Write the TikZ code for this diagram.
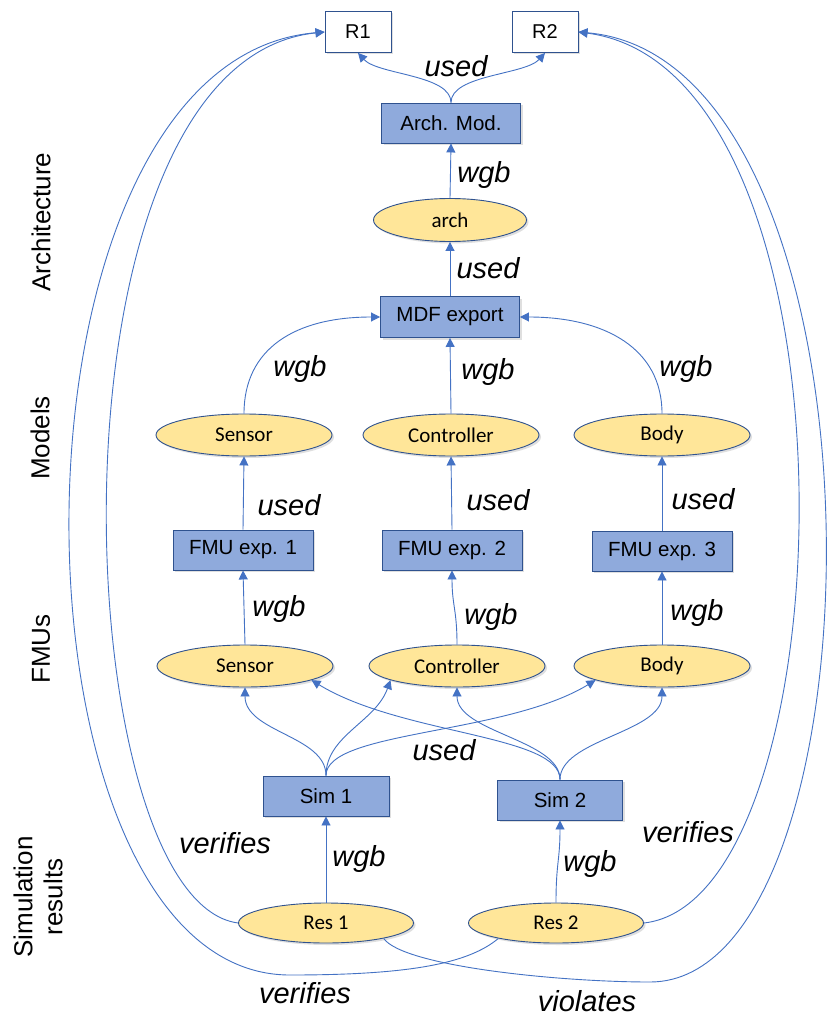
\documentclass[tikz,border=0pt]{standalone}
\usepackage{fontspec}
\setmainfont{Liberation Sans}
\newfontfamily\calfont{Carlito}
\usetikzlibrary{arrows.meta,shapes.geometric,shadows}
\definecolor{lnc}{RGB}{68,114,196}
\definecolor{bfill}{RGB}{143,170,220}
\definecolor{bdr}{RGB}{47,82,143}
\definecolor{efill}{RGB}{255,230,153}
\begin{document}
\begin{tikzpicture}[x=1pt,y=-1pt,
 shd/.style={drop shadow={shadow xshift=2pt,shadow yshift=-2pt,opacity=0.25}},
 rbox/.style={rectangle,draw=bdr,fill=white,line width=0.9pt,minimum width=66pt,minimum height=41pt,inner sep=0pt,font=\fontsize{20}{24}\selectfont,shd},
 bbox/.style={rectangle,draw=bdr,fill=bfill,line width=0.9pt,minimum width=140pt,minimum height=40pt,inner sep=0pt,font=\fontsize{20.5}{24}\selectfont,shd},
 ell/.style={ellipse,draw=bdr,fill=efill,line width=0.9pt,minimum width=176pt,minimum height=42pt,inner sep=0pt,font=\calfont\fontsize{21}{25}\selectfont,shd},
 lab/.style={font=\itshape\fontsize{29}{34}\selectfont,inner sep=0pt},
 side/.style={font=\fontsize{26}{30}\selectfont,rotate=90,inner sep=0pt,align=center},
 con/.style={draw=lnc,line width=0.9pt,-{Triangle[length=9pt,width=9pt]}},
]
\useasboundingbox (0,0) rectangle (832,1016);
\fill[white] (0,0) rectangle (832,1016);

% nodes
\node[rbox] (r1) at (358,32) {R1};
\node[rbox] (r2) at (545,32) {R2};
\node[bbox,minimum width=139pt] (am) at (451,123) {Arch. Mod.};
\node[ell,minimum width=153pt,minimum height=43pt] (arch) at (450,220) {arch};
\node[bbox,minimum width=139pt,minimum height=41pt] (mdf) at (450,317) {MDF export};
\node[ell] (ms) at (244,435) {Sensor};
\node[ell] (mc) at (451,435) {Controller};
\node[ell] (mb) at (662,435) {Body};
\node[bbox] (f1) at (243,550) {FMU exp. 1};
\node[bbox] (f2) at (452,550) {FMU exp. 2};
\node[bbox] (f3) at (662,551) {FMU exp. 3};
\node[ell] (us) at (245,666) {Sensor};
\node[ell] (uc) at (457,666) {Controller};
\node[ell] (ub) at (662,666) {Body};
\node[bbox,minimum width=126pt] (s1) at (326,796) {Sim 1};
\node[bbox,minimum width=125pt] (s2) at (560,800) {Sim 2};
\node[ell,minimum width=175pt,minimum height=40pt] (q1) at (326,923) {Res 1};
\node[ell,minimum width=175pt,minimum height=40pt] (q2) at (556,923) {Res 2};

% connectors
\draw[con] (am.north) .. controls +(0,-28) and +(20,22) .. (r1.south);
\draw[con] (am.north) .. controls +(0,-28) and +(-20,22) .. (r2.south);
\draw[con] (arch.north) -- (am.south);
\draw[con] (mdf.north) -- (arch.south);
\draw[con] (ms.north) .. controls +(0,-65) and +(-85,0) .. (mdf.west);
\draw[con] (mc.north) -- (mdf.south);
\draw[con] (mb.north) .. controls +(0,-65) and +(85,0) .. (mdf.east);
\draw[con] (f1.north) -- (ms.south);
\draw[con] (f2.north) -- (mc.south);
\draw[con] (f3.north) -- (mb.south);
\draw[con] (us.north) -- (f1.south);
\draw[con] (uc.north) .. controls +(0,-35) and +(0,35) .. (f2.south);
\draw[con] (ub.north) -- (f3.south);
\draw[con] (s1.north) .. controls +(0,-40) and +(0,45) .. (us.south);
\draw[con] (s1.north) .. controls +(0,-40) and +(-15,42) .. (uc.192);
\draw[con] (s1.north) .. controls +(0,-45) and +(-90,55) .. (ub.192);
\draw[con] (s2.north) .. controls +(0,-45) and +(90,55) .. (us.348);
\draw[con] (s2.north) .. controls +(0,-40) and +(0,45) .. (uc.south);
\draw[con] (s2.north) .. controls +(0,-40) and +(0,45) .. (ub.south);
\draw[con] (q1.north) -- (s1.south);
\draw[con] (q2.north) .. controls +(0,-40) and +(0,40) .. (s2.south);

\coordinate (bl) at (290,975);
\coordinate (br) at (650,982);
\draw[con] (q1.west) .. controls (65,900) and (35,62) .. (r1.west);
\draw[con] (q2.195) .. controls +(-30,25) and (410,975) .. (bl) .. controls (-5,975) and (-13,60) .. (r1.west);
\draw[con] (q2.east) .. controls (850,900) and (870,70) .. (r2.east);
\draw[con] (q1.-15) .. controls +(20,28) and (560,982) .. (br) .. controls (890,982) and (900,60) .. (r2.east);

% labels
\node[lab] (l1) at (456,66) {used};
\node[lab] (l2) at (484,175) {wgb};
\node[lab] (l3) at (488,268) {used};
\node[lab] (l4) at (300,369) {wgb};
\node[lab] (l5) at (488,372) {wgb};
\node[lab] (l6) at (686,369) {wgb};
\node[lab] (l7) at (289,505) {used};
\node[lab] (l8) at (498,500) {used};
\node[lab] (l9) at (703,499) {used};
\node[lab] (l10) at (279,609) {wgb};
\node[lab] (l11) at (491,617) {wgb};
\node[lab] (l12) at (697,613) {wgb};
\node[lab] (l13) at (444,750) {used};
\node[lab] (l14) at (225,843) {verifies};
\node[lab] (l15) at (359,859) {wgb};
\node[lab] (l16) at (590,864) {wgb};
\node[lab] (l17) at (688,832) {verifies};
\node[lab] (l18) at (305,993) {verifies};
\node[lab] (l19) at (587,1001) {violates};

\node[side] (t1) at (41,222) {Architecture};
\node[side] (t2) at (40,438) {Models};
\node[side] (t3) at (41,649) {FMUs};
\node[side] (t4) at (38,897) {Simulation\\results};
\end{tikzpicture}
\end{document}
